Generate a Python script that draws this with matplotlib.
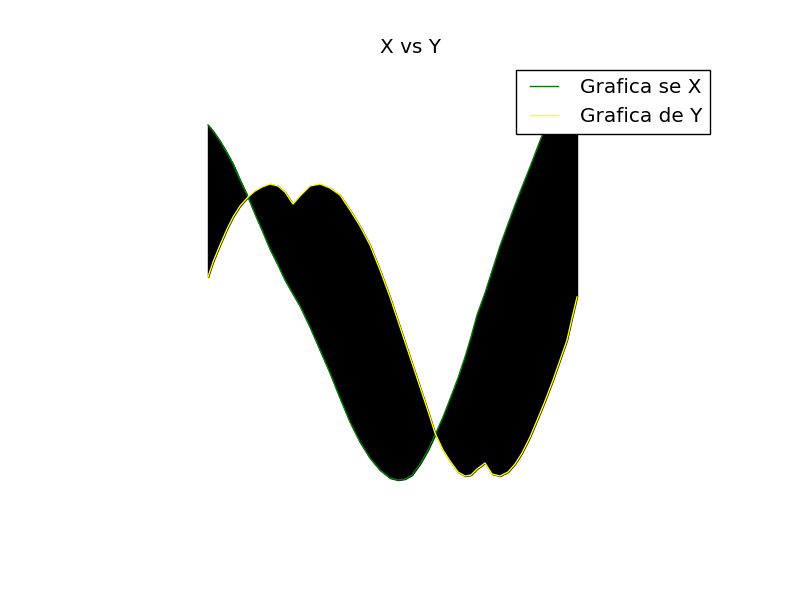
import numpy as np
import matplotlib
matplotlib.use("Agg")
from matplotlib import pyplot as plt

plt.style.use('classic')

# valores
x = [0.0, 0.5, 1.2, 1.9, 2.5, 3.2, 4.0, 4.7, 5.4, 6.2,
     7.0, 7.7, 8.5, 9.2, 10.2, 11.2, 12.2, 13.2, 14.2, 15.2,
     16.2, 17.2, 18.2, 19.0, 19.7, 20.4, 21.2, 22.0, 22.7, 23.5,
     24.2, 25.0, 25.7, 26.3, 26.9, 27.7, 28.4, 29.2, 30.0, 30.7,
     31.4, 32.2, 33.0, 33.7, 34.5, 35.2, 35.9, 36.4, 36.9]

serie_x = [1.75, 1.69, 1.59, 1.47, 1.36, 1.20, 1.03, 0.86, 0.70, 0.51,
           0.35, 0.20, 0.06, -0.06, -0.27, -0.50, -0.73, -0.98, -1.22, -1.42,
           -1.58, -1.70, -1.78, -1.80, -1.79, -1.75, -1.64, -1.50, -1.35, -1.17,
           -0.99, -0.78, -0.57, -0.37, -0.15, 0.07, 0.29, 0.54, 0.76, 0.95,
           1.13, 1.33, 1.54, 1.72, 1.90, 2.02, 2.11, 2.16, 2.20]

serie_y = [0.23, 0.38, 0.55, 0.71, 0.83, 0.94, 1.03, 1.09, 1.13, 1.16,
           1.14, 1.08, 0.96, 1.04, 1.14, 1.16, 1.12, 1.05, 0.90, 0.74,
           0.55, 0.30, 0.03, -0.21, -0.42, -0.63, -0.87, -1.11, -1.33, -1.50,
           -1.61, -1.72, -1.76, -1.75, -1.69, -1.63, -1.74, -1.76, -1.72, -1.64,
           -1.53, -1.37, -1.18, -1.01, -0.80, -0.60, -0.40, -0.18, 0.03]

x = np.array(x)
serie_x = np.array(serie_x)
serie_y = np.array(serie_y)

plt.figure(figsize=(8, 5.97), dpi=100)
plt.fill_between(x, serie_x, serie_y, color='black')
plt.plot(x, serie_x, color='green', label='Grafica se X')
plt.plot(x, serie_y, color='yellow', label='Grafica de Y')
plt.xlim(-10.8, 51.2)
plt.ylim(-2.373, 2.403)
plt.title("X vs Y")
plt.legend(loc='upper right')
plt.axis('off')
plt.savefig('out.png', dpi=100, facecolor='white')
